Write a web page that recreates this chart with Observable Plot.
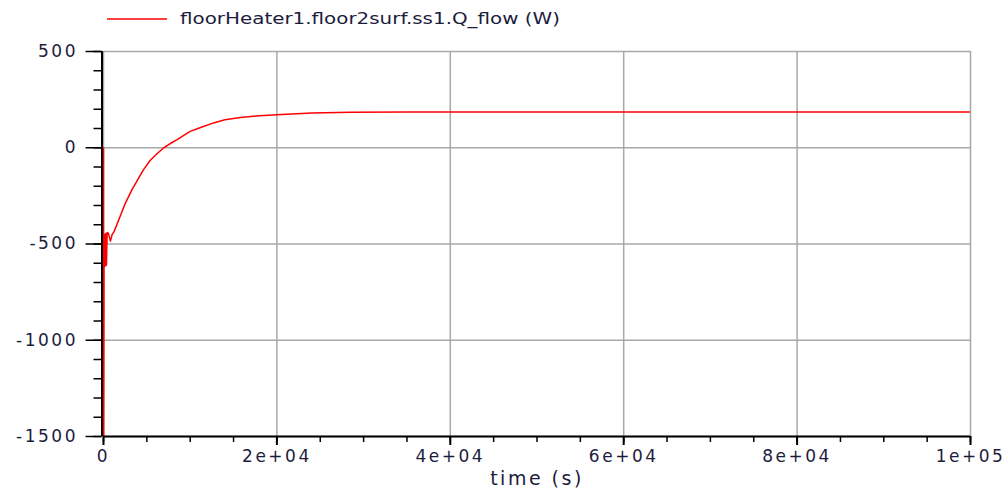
<!DOCTYPE html>
<html>
<head>
<meta charset="utf-8">
<script src="https://cdn.jsdelivr.net/npm/d3@7"></script>
<script src="https://cdn.jsdelivr.net/npm/@observablehq/plot@0.6"></script>
<style>
  body { margin: 0; background: #fff; font-family: "DejaVu Sans", Verdana, sans-serif; }
  #legend { display: block; }
</style>
</head>
<body>
<svg id="legend" width="1008" height="38"></svg>
<div id="chart"></div>
<script>
// Series: floorHeater1.floor2surf.ss1.Q_flow (W) vs time (s)
const seriesName = "floorHeater1.floor2surf.ss1.Q_flow (W)";
const time = [0, 20, 60, 120, 180, 260, 340, 420, 560, 800, 1000, 1200, 1800, 2500, 3300, 3900, 4600, 5400, 6200, 6950, 7700, 8500, 9300, 10000, 11200, 12700, 14000, 15800, 18000, 20000, 24000, 28500, 35000, 50000, 100000];
const qflow = [0, -1600, -600, -450, -615, -445, -610, -440, -445, -485, -450, -437, -370, -290, -216, -169, -115, -65, -30, 0, 22, 42, 65, 85, 105, 129, 145, 157, 166, 172, 180, 184, 186, 186, 186];

const xMajorTicks = [0, 20000, 40000, 60000, 80000, 100000];
const xTickLabels = ["0", "2e+04", "4e+04", "6e+04", "8e+04", "1e+05"];
const xMinorTicks = d3.range(0, 100001, 5000);
const yMajorTicks = [-1500, -1000, -500, 0, 500];
const yTickLabels = ["-1500", "-1000", "-500", "0", "500"];
const yMinorTicks = d3.range(-1500, 501, 100);
const xLabel = "time (s)";

const data = time.map((t, i) => ({t, q: qflow[i]}));
const textColor = "#1c1c3c";
const gridColor = "#a8a8a8";

// legend
const lg = d3.select("#legend");
lg.append("line").attr("x1", 107).attr("x2", 167).attr("y1", 19).attr("y2", 19)
  .attr("stroke", "#ff0000").attr("stroke-width", 1.5);
lg.append("text").attr("x", 180).attr("y", 24).attr("font-size", 15)
  .attr("font-family", "DejaVu Sans, Verdana, sans-serif")
  .attr("fill", textColor).attr("textLength", 380).attr("lengthAdjust", "spacingAndGlyphs")
  .text(seriesName);

const chart = Plot.plot({
  width: 1008,
  height: 451,
  marginLeft: 103,
  marginRight: 38,
  marginTop: 13,
  marginBottom: 53,
  style: { fontFamily: "DejaVu Sans, Verdana, sans-serif", fontSize: "17px", color: textColor, background: "#fff", letterSpacing: "2.5px" },
  x: { domain: [0, 100000] },
  y: { domain: [-1500, 500] },
  marks: [
    Plot.gridX(xMajorTicks, { stroke: gridColor, strokeOpacity: 1, strokeWidth: 1.5 }),
    Plot.gridY(yMajorTicks, { stroke: gridColor, strokeOpacity: 1, strokeWidth: 1.5 }),
    Plot.line(data, { x: "t", y: "q", stroke: "#ff0000", strokeWidth: 1.5, clip: true }),
    Plot.ruleX([0], { stroke: "#000", strokeWidth: 2, dx: -1.5 }),
    Plot.ruleY([-1500], { stroke: "#000", strokeWidth: 2 }),
    Plot.axisY({ ticks: yMinorTicks, tickSize: 8, tickFormat: () => "", stroke: "#000", strokeWidth: 1.5, label: null, dx: -1.5 }),
    Plot.axisY({ ticks: yMajorTicks, tickSize: 16, tickPadding: 8, tickFormat: (d) => yTickLabels[yMajorTicks.indexOf(d)], stroke: "#000", strokeWidth: 1.5, label: null, dx: -1.5, fill: textColor }),
    Plot.axisX({ ticks: xMinorTicks, tickSize: 6, tickFormat: () => "", stroke: "#000", strokeWidth: 1.5, label: null }),
    Plot.axisX({ ticks: xMajorTicks, tickSize: 9, tickPadding: 4, tickFormat: (d) => xTickLabels[xMajorTicks.indexOf(d)], stroke: "#000", strokeWidth: 2, label: null, fill: textColor }),
    Plot.text([xLabel], { frameAnchor: "bottom", dy: 48, fontSize: 19, fill: textColor, text: (d) => d })
  ]
});
document.getElementById("chart").appendChild(chart);
</script>
</body>
</html>
